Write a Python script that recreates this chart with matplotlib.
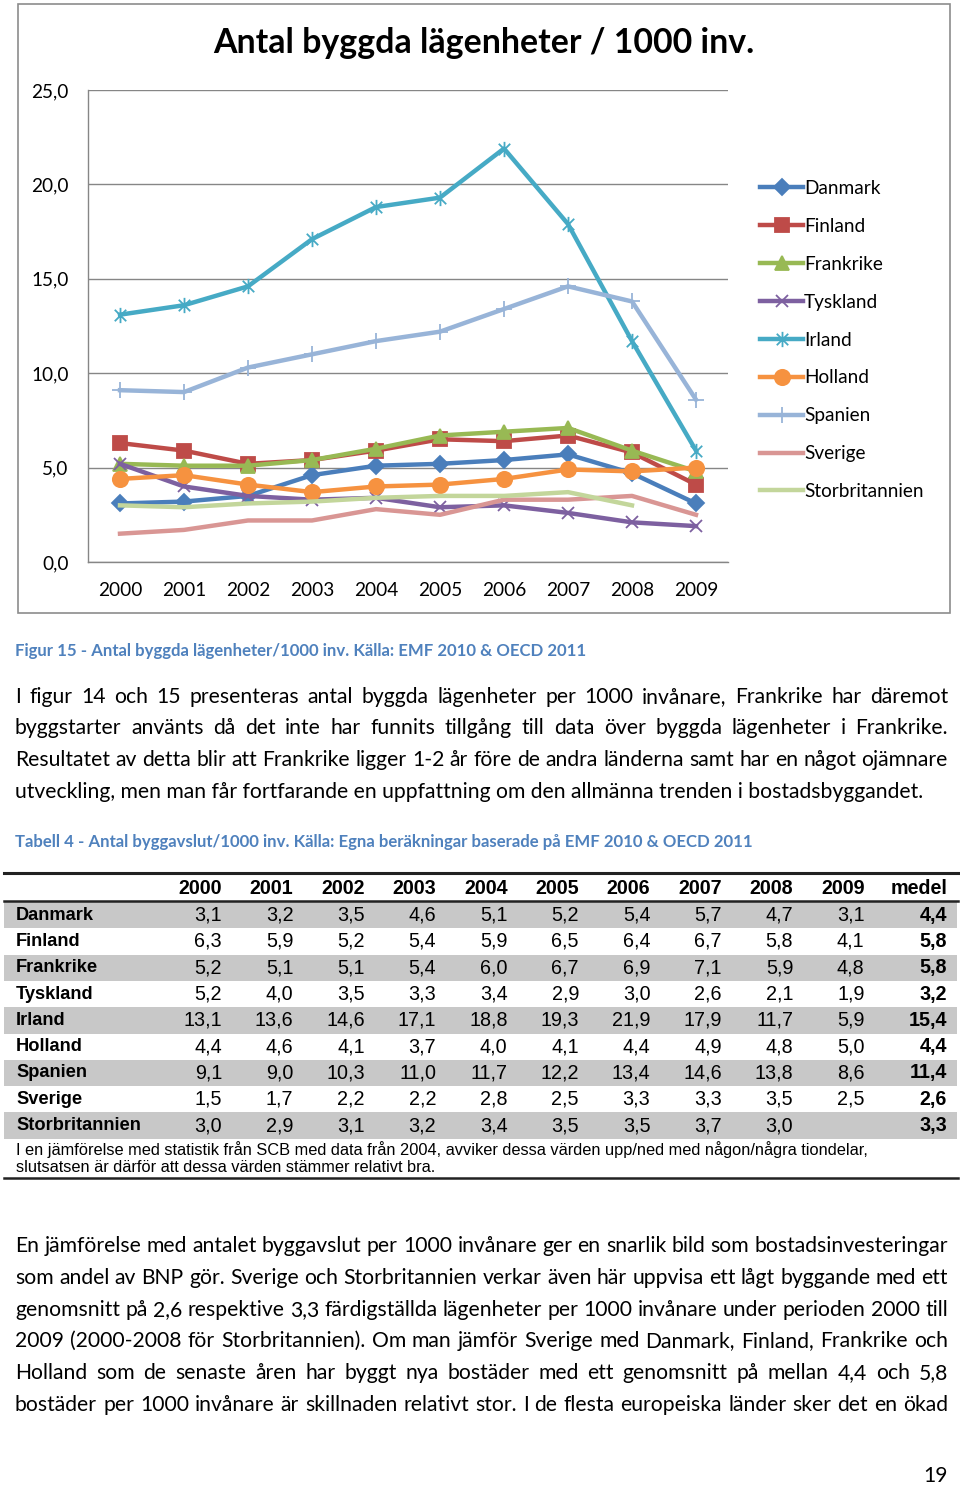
import matplotlib
matplotlib.use("Agg")
import matplotlib.pyplot as plt
from matplotlib.lines import Line2D
from matplotlib.patches import Rectangle
from matplotlib.path import Path

# ---------------------------------------------------
# Data (read from the table on the page)
# ---------------------------------------------------
years = ["2000", "2001", "2002", "2003", "2004", "2005", "2006", "2007", "2008", "2009"]
countries = ["Danmark", "Finland", "Frankrike", "Tyskland", "Irland",
             "Holland", "Spanien", "Sverige", "Storbritannien"]

danmark = [3.1, 3.2, 3.5, 4.6, 5.1, 5.2, 5.4, 5.7, 4.7, 3.1]
finland = [6.3, 5.9, 5.2, 5.4, 5.9, 6.5, 6.4, 6.7, 5.8, 4.1]
frankrike = [5.2, 5.1, 5.1, 5.4, 6.0, 6.7, 6.9, 7.1, 5.9, 4.8]
tyskland = [5.2, 4.0, 3.5, 3.3, 3.4, 2.9, 3.0, 2.6, 2.1, 1.9]
irland = [13.1, 13.6, 14.6, 17.1, 18.8, 19.3, 21.9, 17.9, 11.7, 5.9]
holland = [4.4, 4.6, 4.1, 3.7, 4.0, 4.1, 4.4, 4.9, 4.8, 5.0]
spanien = [9.1, 9.0, 10.3, 11.0, 11.7, 12.2, 13.4, 14.6, 13.8, 8.6]
sverige = [1.5, 1.7, 2.2, 2.2, 2.8, 2.5, 3.3, 3.3, 3.5, 2.5]
storbritannien = [3.0, 2.9, 3.1, 3.2, 3.4, 3.5, 3.5, 3.7, 3.0, None]
medel = [4.4, 5.8, 5.8, 3.2, 15.4, 4.4, 11.4, 2.6, 3.3]

series = [danmark, finland, frankrike, tyskland, irland,
          holland, spanien, sverige, storbritannien]

y_ticks = [0, 5, 10, 15, 20, 25]

# ---------------------------------------------------
# Styles
# ---------------------------------------------------
colors = ["#4A7EBB", "#BE4B48", "#98B954", "#7D60A0", "#46AAC5",
          "#F69240", "#98B4D8", "#D99694", "#C3D69B"]
asterisk = Path([(0, -1), (0, 1), (-0.75, -0.75), (0.75, 0.75), (-0.75, 0.75), (0.75, -0.75)],
                [Path.MOVETO, Path.LINETO] * 3)
markers = ["D", "s", "^", "x", asterisk, "o", "+", None, None]
msizes = [8.5, 9.5, 10, 9, 11, 11, 12, 0, 0]

CHART_FONT = "Lato"
BODY_FONT = "Lato"
TABLE_FONT = "Liberation Sans"
CAPTION_COLOR = "#4F81BD"

W, H = 960, 1485


def fx(px):
    return px / W


def fy(py):
    return 1 - py / H


def fmt(v):
    return f"{v:.1f}".replace(".", ",")


fig = plt.figure(figsize=(W / 100, H / 100), dpi=100)
renderer = fig.canvas.get_renderer()


def text_width(s, **kw):
    t = fig.text(0, 0, s, **kw)
    w = t.get_window_extent(renderer=renderer).width
    t.remove()
    return w


def fit_size(s, width, **kw):
    return 10 * width / text_width(s, fontsize=10, **kw)


def put_line(s, y, size, x0=15, x1=948, justify=True, **kw):
    words = s.split()
    if not justify:
        fig.text(fx(x0), fy(y), s, fontsize=size, va="center", **kw)
        return
    widths = [text_width(w_, fontsize=size, **kw) for w_ in words]
    gap = (x1 - x0 - sum(widths)) / (len(words) - 1)
    x = x0
    for w_, ww in zip(words, widths):
        fig.text(fx(x), fy(y), w_, fontsize=size, va="center", **kw)
        x += ww + gap


# ---------------------------------------------------
# Chart frame + title
# ---------------------------------------------------
fig.add_artist(Rectangle((fx(18), fy(613)), (950 - 18) / W, (613 - 4) / H,
                         transform=fig.transFigure, facecolor="white",
                         edgecolor="#8C8C8C", lw=1.2, zorder=0))

title = "Antal byggda lägenheter / 1000 inv."
ts = fit_size(title, 542, family=CHART_FONT, weight="bold")
fig.text(fx(484), fy(43), title, fontsize=ts, family=CHART_FONT,
         weight="bold", ha="center", va="center")

chart_fs = fit_size("Storbritannien", 120, family=CHART_FONT)

ax = fig.add_axes([fx(88), fy(562), 640 / W, 472 / H])
x = list(range(len(years)))
for name, vals, c, m, ms in zip(countries, series, colors, markers, msizes):
    yv = [float("nan") if v is None else v for v in vals]
    ax.plot(x, yv, color=c, lw=3.2, marker=m, markersize=ms,
            markeredgewidth=1.3, label=name, solid_joinstyle="round")

ax.set_xlim(-0.5, 9.5)
ax.set_ylim(0, 25)
ax.set_xticks(x)
ax.set_xticklabels(years, family=CHART_FONT, fontsize=chart_fs)
ax.set_yticks(y_ticks)
ax.set_yticklabels([fmt(v) for v in y_ticks], family=CHART_FONT, fontsize=chart_fs)
ax.tick_params(axis="both", length=0)
ax.tick_params(axis="y", pad=14)
ax.tick_params(axis="x", pad=14.5)
ax.yaxis.grid(True, color="#868686", lw=1)
ax.set_axisbelow(True)
for sp in ["top", "right"]:
    ax.spines[sp].set_visible(False)
for sp in ["left", "bottom"]:
    ax.spines[sp].set_color("#868686")
    ax.spines[sp].set_linewidth(1)

fs_px = chart_fs * 100 / 72
ax.legend(loc="center left", bbox_to_anchor=(fx(760), fy(340)),
          bbox_transform=fig.transFigure, frameon=False, borderpad=0,
          borderaxespad=0, handlelength=43 / fs_px, handletextpad=0.05,
          labelspacing=(37.2 - 0.86 * fs_px) / fs_px,
          prop={"family": CHART_FONT, "size": chart_fs})

# ---------------------------------------------------
# Captions and body text
# ---------------------------------------------------
cap1 = "Figur 15 - Antal byggda lägenheter/1000 inv. Källa: EMF 2010 & OECD 2011"
cs = fit_size(cap1, 574, family=BODY_FONT, weight="bold")
fig.text(fx(15), fy(651), cap1, fontsize=cs, family=BODY_FONT, weight="bold",
         color=CAPTION_COLOR, va="center")

cap2 = "Tabell 4 - Antal byggavslut/1000 inv. Källa: Egna beräkningar baserade på EMF 2010 & OECD 2011"
fig.text(fx(15), fy(842), cap2, fontsize=cs, family=BODY_FONT, weight="bold",
         color=CAPTION_COLOR, va="center")

para1 = [
    "I figur 14 och 15 presenteras antal byggda lägenheter per 1000 invånare, Frankrike har däremot",
    "byggstarter använts då det inte har funnits tillgång till data över byggda lägenheter i Frankrike.",
    "Resultatet av detta blir att Frankrike ligger 1-2 år före de andra länderna samt har en något ojämnare",
    "utveckling, men man får fortfarande en uppfattning om den allmänna trenden i bostadsbyggandet.",
]
para1_y = [697, 728, 760, 792]
bs = fit_size(para1[-1], 906, family=BODY_FONT)
for i, (line, yy) in enumerate(zip(para1, para1_y)):
    put_line(line, yy, bs, justify=i < len(para1) - 1, family=BODY_FONT)

para2 = [
    "En jämförelse med antalet byggavslut per 1000 invånare ger en snarlik bild som bostadsinvesteringar",
    "som andel av BNP gör. Sverige och Storbritannien verkar även här uppvisa ett lågt byggande med ett",
    "genomsnitt på 2,6 respektive 3,3 färdigställda lägenheter per 1000 invånare under perioden 2000 till",
    "2009 (2000-2008 för Storbritannien). Om man jämför Sverige med Danmark, Finland, Frankrike och",
    "Holland som de senaste åren har byggt nya bostäder med ett genomsnitt på mellan 4,4 och 5,8",
    "bostäder per 1000 invånare är skillnaden relativt stor.  I de flesta europeiska länder sker det en ökad",
]
para2_y = [1246, 1278, 1310, 1341, 1373, 1405]
for line, yy in zip(para2, para2_y):
    put_line(line, yy, bs, family=BODY_FONT)

fig.text(fx(948), fy(1476), "19", fontsize=bs, family=BODY_FONT, ha="right", va="center")

# ---------------------------------------------------
# Table
# ---------------------------------------------------
row_top = 902
row_h = 26.3
col_right = [222 + 71.4 * i for i in range(len(years))] + [947]
lab_fs = fit_size("Storbritannien", 125, family=TABLE_FONT, weight="bold")
head_fs = fit_size("2000", 44, family=TABLE_FONT, weight="bold")
val_fs = fit_size("13,1", 38, family=TABLE_FONT)

for i in range(len(countries)):
    if i % 2 == 0:
        fig.add_artist(Rectangle((fx(4), fy(row_top + (i + 1) * row_h)), (957 - 4) / W,
                                 row_h / H, transform=fig.transFigure,
                                 facecolor="#C8C8C8", edgecolor="none", zorder=0))

for yy, lw in [(873, 2.2), (901, 1.8), (1178, 1.8)]:
    fig.add_artist(Line2D([fx(4), fx(958)], [fy(yy), fy(yy)], color="#222222",
                          lw=lw, transform=fig.transFigure))

for xr, lab in zip(col_right, years + ["medel"]):
    fig.text(fx(xr), fy(888), lab, fontsize=head_fs, family=TABLE_FONT, weight="bold",
             ha="right", va="center")

for i, (name, vals) in enumerate(zip(countries, series)):
    yc = row_top + (i + 0.5) * row_h
    fig.text(fx(16), fy(yc), name, fontsize=lab_fs, family=TABLE_FONT, weight="bold",
             va="center")
    for xr, v in zip(col_right, vals):
        if v is None:
            continue
        fig.text(fx(xr), fy(yc), fmt(v), fontsize=val_fs, family=TABLE_FONT,
                 ha="right", va="center")
    fig.text(fx(col_right[-1]), fy(yc), fmt(medel[i]), fontsize=val_fs,
             family=TABLE_FONT, weight="bold", ha="right", va="center")

note1 = ("I en jämförelse med statistik från SCB med data från 2004, avviker dessa "
         "värden upp/ned med någon/några tiondelar,")
note2 = "slutsatsen är därför att dessa värden stämmer relativt bra."
ns = fit_size(note1, 856, family=TABLE_FONT)
fig.text(fx(16), fy(1150), note1, fontsize=ns, family=TABLE_FONT, va="center")
fig.text(fx(16), fy(1168), note2, fontsize=ns, family=TABLE_FONT, va="center")

fig.savefig("out.png", dpi=100, facecolor="white")
